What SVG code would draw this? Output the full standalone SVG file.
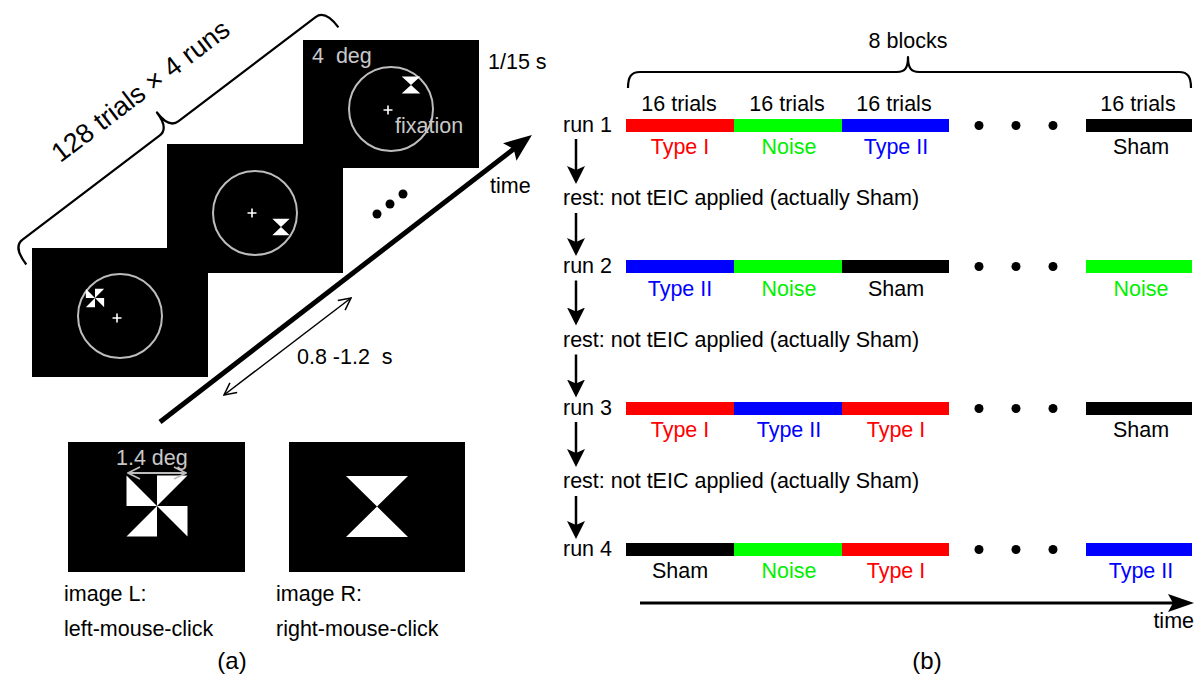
<svg xmlns="http://www.w3.org/2000/svg" xmlns:xlink="http://www.w3.org/1999/xlink" width="1194" height="676" viewBox="0 0 1194 676">
  <style>
    text { font-family: "Liberation Sans", Arial, sans-serif; font-size: 21.5px; fill: #000; }
    .grey { fill: #c8c8c8; }
    .mid { text-anchor: middle; }
    .end { text-anchor: end; }
    .red { fill: #ff0000; }
    .green { fill: #00f000; }
    .blue { fill: #0000ff; }
    .caption { font-size: 24px; }
    .screen { fill: #000; }
    .ring { fill: none; stroke: #bdbdbd; stroke-width: 2; }
    .cross { stroke: #fff; stroke-width: 1.6; fill: none; }
    .down { stroke: #000; stroke-width: 2.5; fill: none; marker-end: url(#down-head); }
    .brace { fill: none; stroke: #000; stroke-width: 2.2; stroke-linejoin: round; }
    .dot { fill: #000; }
  </style>
  <defs>
    <!-- four-blade pinwheel, 61 x 61, centred on the origin -->
    <g id="pinwheel" fill="#fff">
      <polygon points="-30.5,-30.5 -30.5,0 0,0"/>
      <polygon points="30.5,-30.5 0,-30.5 0,0"/>
      <polygon points="30.5,30.5 30.5,0 0,0"/>
      <polygon points="-30.5,30.5 0,30.5 0,0"/>
    </g>
    <!-- hourglass, 62 x 61, centred on the origin -->
    <polygon id="hourglass" fill="#fff" points="-31,-30.5 31,-30.5 0,0 31,30.5 -31,30.5 0,0"/>
    <marker id="down-head" markerUnits="userSpaceOnUse" viewBox="0 0 18 18" refX="10" refY="9" markerWidth="18" markerHeight="18" orient="auto">
      <path d="M0,0 L18,9 L0,18 L4,9 z" fill="#000"/>
    </marker>
    <marker id="time-head" markerUnits="userSpaceOnUse" viewBox="0 0 26 18" refX="18" refY="9" markerWidth="26" markerHeight="18" orient="auto">
      <path d="M0,0 L26,9 L0,18 L5,9 z" fill="#000"/>
    </marker>
    <marker id="big-head" markerUnits="userSpaceOnUse" viewBox="0 0 28 22" refX="18" refY="11" markerWidth="28" markerHeight="22" orient="auto">
      <path d="M0,0 L28,11 L0,22 L5,11 z" fill="#000"/>
    </marker>
    <marker id="open-head" markerUnits="userSpaceOnUse" viewBox="0 0 14 14" refX="13" refY="7" markerWidth="14" markerHeight="14" orient="auto-start-reverse">
      <path d="M1,1 L13,7 L1,13" fill="none" stroke="#000" stroke-width="1.5"/>
    </marker>
    <marker id="open-head-grey" markerUnits="userSpaceOnUse" viewBox="0 0 14 14" refX="13" refY="7" markerWidth="14" markerHeight="14" orient="auto-start-reverse">
      <path d="M1,1 L13,7 L1,13" fill="none" stroke="#bdbdbd" stroke-width="1.8"/>
    </marker>
  </defs>

  <rect width="1194" height="676" fill="#fff"/>

  <!-- ================= panel (a) ================= -->
  <g id="trial-brace">
    <g transform="translate(13,247) rotate(-37.23)">
      <path class="brace" d="M0,22 C0,8 3,0 12,0 L184,0 C192,0 196,-6 196,-20 C196,-6 200,0 208,0 L380,0 C389,0 392,8 392,22"/>
      <text class="mid" x="196" y="-38" style="font-size:27px">128 trials × 4 runs</text>
    </g>
  </g>

  <g id="screen-1">
    <rect class="screen" x="32" y="248" width="176" height="129"/>
    <circle class="ring" cx="120" cy="316" r="42"/>
    <path class="cross" d="M112.5,318 h9 M117,313.5 v9"/>
    <use xlink:href="#pinwheel" transform="translate(95,298) scale(0.3)"/>
  </g>

  <g id="screen-2">
    <rect class="screen" x="167" y="144" width="176" height="129"/>
    <circle class="ring" cx="255" cy="213" r="42"/>
    <path class="cross" d="M247.5,213 h9 M252,208.5 v9"/>
    <use xlink:href="#hourglass" transform="translate(281,227) scale(0.28,0.27)"/>
  </g>

  <g id="screen-3">
    <rect class="screen" x="303" y="40" width="176" height="128"/>
    <circle class="ring" cx="391" cy="109" r="42"/>
    <path class="cross" d="M383.5,110 h9 M388,105.5 v9"/>
    <use xlink:href="#hourglass" transform="translate(411,85) scale(0.3,0.28)"/>
    <text class="grey" x="312" y="63" xml:space="preserve">4  deg</text>
    <text class="grey" x="395" y="133">fixation</text>
  </g>

  <g id="more-screens">
    <circle class="dot" cx="377" cy="214" r="4.5"/>
    <circle class="dot" cx="390" cy="204" r="4.5"/>
    <circle class="dot" cx="403" cy="194" r="4.5"/>
  </g>

  <g id="timing-labels">
    <text x="488" y="69">1/15 s</text>
    <text x="490" y="193">time</text>
    <text x="297" y="364" xml:space="preserve">0.8 -1.2  s</text>
  </g>

  <g id="image-L">
    <rect class="screen" x="68" y="442" width="177" height="130"/>
    <use xlink:href="#pinwheel" transform="translate(157,506)"/>
    <line x1="128" y1="473" x2="186" y2="473" stroke="#bdbdbd" stroke-width="1.8" marker-start="url(#open-head-grey)" marker-end="url(#open-head-grey)"/>
    <text class="grey" x="116" y="465">1.4 deg</text>
    <text x="64" y="601">image L:</text>
    <text x="64" y="636">left-mouse-click</text>
  </g>

  <g id="image-R">
    <rect class="screen" x="289" y="442" width="176" height="130"/>
    <use xlink:href="#hourglass" transform="translate(377,506.5)"/>
    <text x="276" y="601">image R:</text>
    <text x="276" y="636">right-mouse-click</text>
  </g>

  <text class="mid caption" x="232" y="669">(a)</text>

  <!-- connectors of panel (a) -->
  <g id="connectors-a">
    <line x1="160" y1="422" x2="524" y2="141" stroke="#000" stroke-width="5" marker-end="url(#big-head)"/>
    <line x1="224" y1="395" x2="351" y2="298" stroke="#000" stroke-width="1.5" marker-start="url(#open-head)" marker-end="url(#open-head)"/>
  </g>

  <!-- ================= panel (b) ================= -->
  <g id="block-brace">
    <path class="brace" d="M628,88 C628,77 631,72 640,72 L897,72 C905,72 908,68 908,57 C908,68 911,72 919,72 L1179,72 C1188,72 1191,77 1191,88"/>
    <text class="mid" x="908" y="48">8 blocks</text>
  </g>

  <g id="trial-counts">
    <text class="mid" x="679" y="111">16 trials</text>
    <text class="mid" x="787" y="111">16 trials</text>
    <text class="mid" x="894" y="111">16 trials</text>
    <text class="mid" x="1138" y="111">16 trials</text>
  </g>

  <g id="run-1">
    <text x="563" y="132">run 1</text>
    <rect x="626" y="119" width="108" height="13" fill="#ff0000"/>
    <rect x="734" y="119" width="108" height="13" fill="#00ff00"/>
    <rect x="842" y="119" width="107" height="13" fill="#0000ff"/>
    <circle class="dot" cx="979" cy="125.5" r="4.5"/>
    <circle class="dot" cx="1016" cy="125.5" r="4.5"/>
    <circle class="dot" cx="1053" cy="125.5" r="4.5"/>
    <rect x="1086" y="119" width="106" height="13" fill="#000"/>
    <text class="mid red" x="680" y="154">Type I</text>
    <text class="mid green" x="789" y="154">Noise</text>
    <text class="mid blue" x="896" y="154">Type II</text>
    <text class="mid" x="1141" y="154">Sham</text>
  </g>

  <g id="rest-1"><text x="563" y="205">rest: not tEIC applied (actually Sham)</text></g>

  <g id="run-2">
    <text x="563" y="273">run 2</text>
    <rect x="626" y="260" width="108" height="13" fill="#0000ff"/>
    <rect x="734" y="260" width="108" height="13" fill="#00ff00"/>
    <rect x="842" y="260" width="107" height="13" fill="#000"/>
    <circle class="dot" cx="979" cy="266.5" r="4.5"/>
    <circle class="dot" cx="1016" cy="266.5" r="4.5"/>
    <circle class="dot" cx="1053" cy="266.5" r="4.5"/>
    <rect x="1086" y="260" width="106" height="13" fill="#00ff00"/>
    <text class="mid blue" x="680" y="295.5">Type II</text>
    <text class="mid green" x="789" y="295.5">Noise</text>
    <text class="mid" x="896" y="295.5">Sham</text>
    <text class="mid green" x="1141" y="295.5">Noise</text>
  </g>

  <g id="rest-2"><text x="563" y="346.5">rest: not tEIC applied (actually Sham)</text></g>

  <g id="run-3">
    <text x="563" y="415">run 3</text>
    <rect x="626" y="402" width="108" height="13" fill="#ff0000"/>
    <rect x="734" y="402" width="108" height="13" fill="#0000ff"/>
    <rect x="842" y="402" width="107" height="13" fill="#ff0000"/>
    <circle class="dot" cx="979" cy="408.5" r="4.5"/>
    <circle class="dot" cx="1016" cy="408.5" r="4.5"/>
    <circle class="dot" cx="1053" cy="408.5" r="4.5"/>
    <rect x="1086" y="402" width="106" height="13" fill="#000"/>
    <text class="mid red" x="680" y="437">Type I</text>
    <text class="mid blue" x="789" y="437">Type II</text>
    <text class="mid red" x="896" y="437">Type I</text>
    <text class="mid" x="1141" y="437">Sham</text>
  </g>

  <g id="rest-3"><text x="563" y="488">rest: not tEIC applied (actually Sham)</text></g>

  <g id="run-4">
    <text x="563" y="556">run 4</text>
    <rect x="626" y="543" width="108" height="13" fill="#000"/>
    <rect x="734" y="543" width="108" height="13" fill="#00ff00"/>
    <rect x="842" y="543" width="107" height="13" fill="#ff0000"/>
    <circle class="dot" cx="979" cy="549.5" r="4.5"/>
    <circle class="dot" cx="1016" cy="549.5" r="4.5"/>
    <circle class="dot" cx="1053" cy="549.5" r="4.5"/>
    <rect x="1086" y="543" width="106" height="13" fill="#0000ff"/>
    <text class="mid" x="680" y="578">Sham</text>
    <text class="mid green" x="789" y="578">Noise</text>
    <text class="mid red" x="896" y="578">Type I</text>
    <text class="mid blue" x="1141" y="578">Type II</text>
  </g>

  <g id="time-axis">
    <text class="end" x="1194" y="628">time</text>
  </g>

  <text class="mid caption" x="927" y="669">(b)</text>

  <!-- connectors of panel (b) -->
  <g id="connectors-b">
    <line class="down" x1="576" y1="139" x2="576" y2="176"/>
    <line class="down" x1="576" y1="213" x2="576" y2="248"/>
    <line class="down" x1="576" y1="280.5" x2="576" y2="317.5"/>
    <line class="down" x1="576" y1="354.5" x2="576" y2="389.5"/>
    <line class="down" x1="576" y1="422" x2="576" y2="459"/>
    <line class="down" x1="576" y1="496" x2="576" y2="531"/>
    <line x1="640" y1="603" x2="1186" y2="603" stroke="#000" stroke-width="3" marker-end="url(#time-head)"/>
  </g>
</svg>
